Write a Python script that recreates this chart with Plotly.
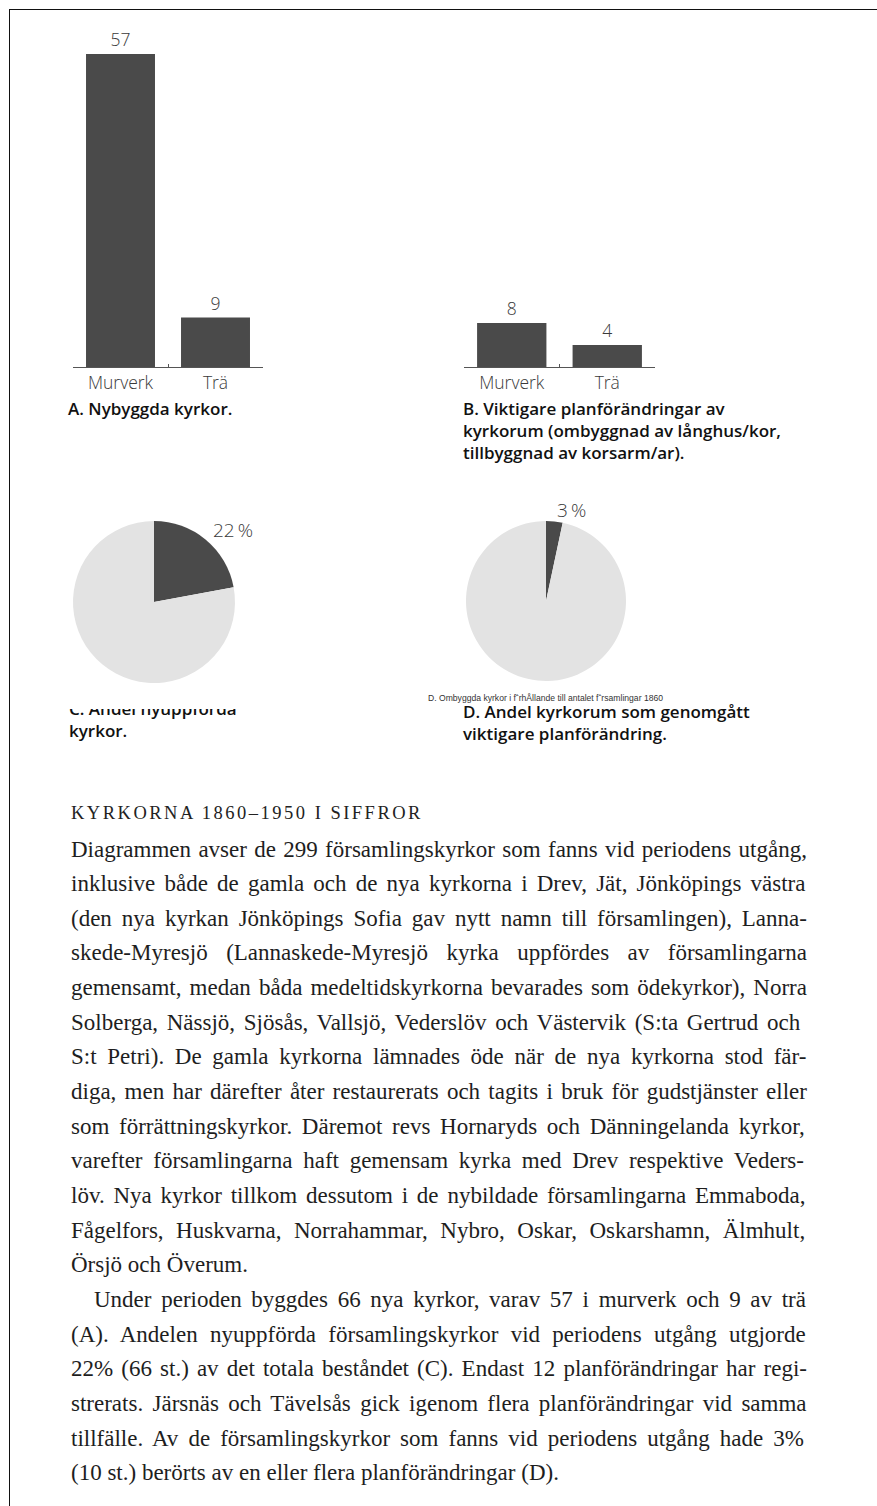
import math
import plotly.graph_objects as go

W, H = 877, 1506

# --- data -------------------------------------------------------------
a_categories = ["Murverk", "Trä"]          # A. Nybyggda kyrkor
a_values = [57, 9]
b_categories = ["Murverk", "Trä"]          # B. Viktigare planförändringar
b_values = [8, 4]
c_labels = ["Nyuppförda", "Äldre"]         # C. Andel nyuppförda kyrkor
c_values = [66, 233]
d_labels = ["Planförändrade", "Övriga"]    # D. Andel kyrkorum med planförändring
d_values = [10, 289]

DARK = "#4a4a4a"
LIGHT = "#e3e3e3"
INK = "#3a3a3a"
SANS = "Open Sans"
SERIF = "Liberation Serif"


def fx(px):
    return px / W


def fy(py):
    return 1 - py / H


fig = go.Figure()

# --- bar charts A and B ------------------------------------------------
UNIT = 5.49      # pixels per church
BASE = 367       # baseline of both bar panels
YMAX = 60
ydom = [fy(BASE), fy(BASE - YMAX * UNIT)]
light_font = dict(family=SANS, size=17.5, color=INK, weight=300)

for cats, vals, xa, ya in [(a_categories, a_values, "x", "y"),
                           (b_categories, b_values, "x2", "y2")]:
    fig.add_trace(go.Bar(
        x=cats, y=vals, xaxis=xa, yaxis=ya, width=0.726,
        marker=dict(color=DARK, line=dict(width=0)),
        text=vals, textposition="outside", textfont=light_font,
        cliponaxis=False, hoverinfo="skip", showlegend=False,
    ))

xcommon = dict(
    type="category", range=[-0.5, 1.5], showline=True, linecolor="#555555",
    linewidth=1, ticks="inside", ticklen=3, tickcolor="#555555",
    tickson="boundaries", showgrid=False, zeroline=False, fixedrange=True,
    tickfont=light_font,
)
ycommon = dict(domain=ydom, range=[0, YMAX], visible=False, fixedrange=True)

# --- pies C and D ------------------------------------------------------
pies = [(c_labels, c_values, 154, 602, 81), (d_labels, d_values, 546, 601, 80)]
annotations = []
for labels, vals, cx, cy, r in pies:
    fig.add_trace(go.Pie(
        labels=labels, values=vals, sort=False, direction="clockwise",
        rotation=0, textinfo="none", hoverinfo="skip", showlegend=False,
        marker=dict(colors=[DARK, LIGHT], line=dict(width=0)),
        domain=dict(x=[fx(cx - r), fx(cx + r)], y=[fy(cy + r), fy(cy - r)]),
    ))
    frac = vals[0] / sum(vals)
    mid = frac * math.pi
    annotations.append(dict(
        text=f"{round(100 * frac)}\u2009%", showarrow=False,
        x=fx(cx + (r + 8) * math.sin(mid)), y=fy(cy - (r + 12) * math.cos(mid)),
        xref="paper", yref="paper", xanchor="left", yanchor="middle",
        font=dict(family=SANS, size=19, color=INK, weight=300),
    ))

cap_font = dict(family=SANS, size=17, color="#111111", weight=600)

# caption C sits in its own clipped strip, so its first line is cut off
fig.add_trace(go.Scatter(
    x=[69], y=[722], xaxis="x3", yaxis="y3", mode="text",
    text=["C. Andel nyuppförda<br>kyrkor."], textposition="middle right",
    textfont=cap_font, cliponaxis=True, hoverinfo="skip", showlegend=False,
))

captions = [
    ("A. Nybyggda kyrkor.", 66, 408),
    ("B. Viktigare planförändringar av<br>kyrkorum (ombyggnad av långhus/kor,<br>"
     "tillbyggnad av korsarm/ar).", 461, 431),
    ("D. Andel kyrkorum som genomgått<br>viktigare planförändring.", 461, 722),
]
for txt, x, yc in captions:
    annotations.append(dict(
        text=txt, x=fx(x), y=fy(yc), xref="paper", yref="paper",
        xanchor="left", yanchor="middle", align="left", showarrow=False,
        font=cap_font,
    ))

annotations.append(dict(
    text="D. Ombyggda kyrkor i fˆrhÅllande till antalet fˆrsamlingar 1860",
    x=fx(426), y=fy(698), xref="paper", yref="paper", xanchor="left",
    yanchor="middle", showarrow=False,
    font=dict(family="Liberation Sans", size=8.6, color="#333333"),
))

# --- running text ------------------------------------------------------
TIMES = dict(zip("abcdefghijklmnopqrstuvwxyz",
                 [444, 500, 444, 500, 444, 333, 500, 500, 278, 278, 500, 278, 778,
                  500, 500, 500, 500, 333, 389, 278, 500, 500, 722, 500, 500, 444]))
TIMES.update(zip("ABCDEFGHIJKLMNOPQRSTUVWXYZ",
                 [722, 667, 667, 722, 611, 556, 722, 722, 333, 389, 722, 611, 889,
                  722, 722, 556, 722, 667, 556, 611, 722, 722, 944, 722, 722, 611]))
TIMES.update({"å": 444, "ä": 444, "ö": 500, "Å": 722, "Ä": 722, "Ö": 722,
              " ": 250, ",": 250, ".": 250, ":": 278, ";": 278, "-": 333,
              "(": 333, ")": 333, "/": 278, "%": 833, "–": 500})
for dgt in "0123456789":
    TIMES[dgt] = 500


def text_width(s, size):
    return size * sum(TIMES.get(ch, 500) for ch in s) / 1000


pct_c = round(100 * c_values[0] / sum(c_values))
pct_d = round(100 * d_values[0] / sum(d_values))

paragraphs = [
    [
        f"Diagrammen avser de {sum(c_values)} församlingskyrkor som fanns vid periodens utgång,",
        "inklusive både de gamla och de nya kyrkorna i Drev, Jät, Jönköpings västra",
        "(den nya kyrkan Jönköpings Sofia gav nytt namn till församlingen), Lanna-",
        "skede-Myresjö (Lannaskede-Myresjö kyrka uppfördes av församlingarna",
        "gemensamt, medan båda medeltidskyrkorna bevarades som ödekyrkor), Norra",
        "Solberga, Nässjö, Sjösås, Vallsjö, Vederslöv och Västervik (S:ta Gertrud och",
        "S:t Petri). De gamla kyrkorna lämnades öde när de nya kyrkorna stod fär-",
        "diga, men har därefter åter restaurerats och tagits i bruk för gudstjänster eller",
        "som förrättningskyrkor. Däremot revs Hornaryds och Dänningelanda kyrkor,",
        "varefter församlingarna haft gemensam kyrka med Drev respektive Veders-",
        "löv. Nya kyrkor tillkom dessutom i de nybildade församlingarna Emmaboda,",
        "Fågelfors, Huskvarna, Norrahammar, Nybro, Oskar, Oskarshamn, Älmhult,",
        "Örsjö och Överum.",
    ],
    [
        f"Under perioden byggdes {sum(a_values)} nya kyrkor, varav {a_values[0]} i murverk "
        f"och {a_values[1]} av trä",
        "(A). Andelen nyuppförda församlingskyrkor vid periodens utgång utgjorde",
        f"{pct_c}% ({c_values[0]} st.) av det totala beståndet (C). Endast "
        f"{sum(b_values)} planförändringar har regi-",
        "strerats. Järsnäs och Tävelsås gick igenom flera planförändringar vid samma",
        f"tillfälle. Av de församlingskyrkor som fanns vid periodens utgång hade {pct_d}%",
        f"({d_values[0]} st.) berörts av en eller flera planförändringar (D).",
    ],
]

BODY_SIZE = 23
LEFT, RIGHT, INDENT = 70, 806, 23
FIRST_LINE, LINE_STEP = 849, 34.65

HEAD = "KYRKORNA 1860–1950 I SIFFROR"
HEAD_SIZE = 18.5
head_ls = (353 - text_width(HEAD, HEAD_SIZE)) / len(HEAD)
annotations.append(dict(
    text=f"<span style='letter-spacing:{head_ls:.2f}px'>{HEAD}</span>",
    x=fx(LEFT - 1), y=fy(FIRST_LINE - 36), xref="paper", yref="paper",
    xanchor="left", yanchor="middle", showarrow=False,
    font=dict(family=SERIF, size=HEAD_SIZE, color="#222222"),
))

row = 0
for p_idx, para in enumerate(paragraphs):
    for l_idx, line in enumerate(para):
        start = LEFT + (INDENT if (p_idx > 0 and l_idx == 0) else 0)
        if l_idx == len(para) - 1:
            txt = line
        else:
            gap = (RIGHT - start - text_width(line, BODY_SIZE)) / line.count(" ")
            txt = f"<span style='word-spacing:{gap:.2f}px'>{line}</span>"
        annotations.append(dict(
            text=txt, x=fx(start - 1), y=fy(FIRST_LINE + row * LINE_STEP),
            xref="paper", yref="paper", xanchor="left", yanchor="middle",
            showarrow=False, font=dict(family=SERIF, size=BODY_SIZE, color="#1e1e1e"),
        ))
        row += 1

# --- frame -------------------------------------------------------------
shapes = [
    dict(type="line", xref="paper", yref="paper", x0=fx(9), x1=1, y0=fy(9.5), y1=fy(9.5),
         line=dict(color="#111111", width=1)),
    dict(type="line", xref="paper", yref="paper", x0=fx(9.5), x1=fx(9.5), y0=fy(9), y1=0,
         line=dict(color="#111111", width=1)),
]

fig.update_layout(
    width=W, height=H, margin=dict(l=0, r=0, t=0, b=0),
    paper_bgcolor="white", plot_bgcolor="rgba(0,0,0,0)", showlegend=False,
    xaxis=dict(domain=[fx(73), fx(263)], anchor="y", **xcommon),
    xaxis2=dict(domain=[fx(464), fx(655)], anchor="y2", **xcommon),
    yaxis=dict(anchor="x", **ycommon),
    yaxis2=dict(anchor="x2", **ycommon),
    xaxis3=dict(domain=[fx(60), fx(340)], range=[60, 340], visible=False,
                anchor="y3", fixedrange=True),
    yaxis3=dict(domain=[fy(760), fy(709)], range=[760, 709], visible=False,
                anchor="x3", fixedrange=True),
    annotations=annotations, shapes=shapes,
)

fig.write_html("out.html", include_plotlyjs=True, config={"displayModeBar": False})
